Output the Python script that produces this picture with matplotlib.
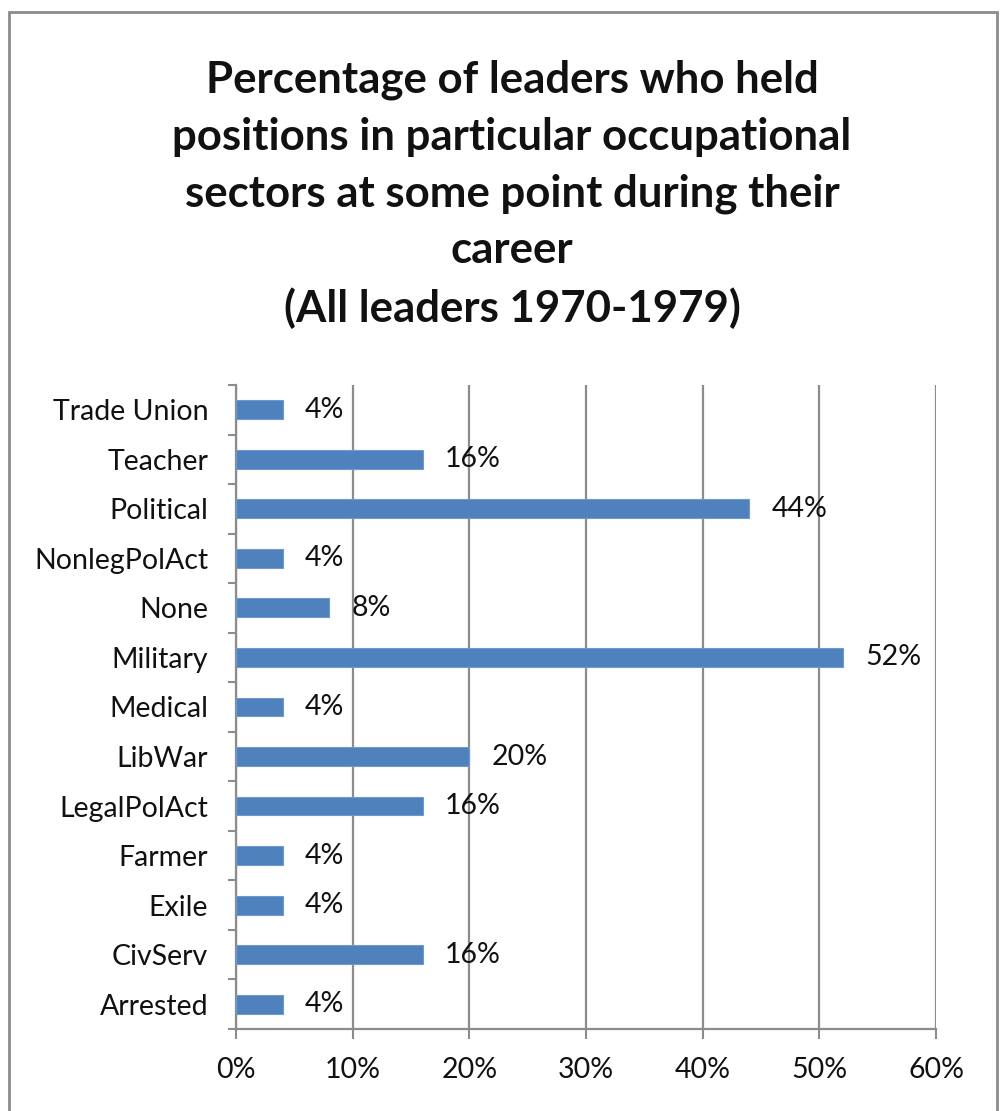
import matplotlib
matplotlib.use("Agg")
import matplotlib.pyplot as plt
from matplotlib.patches import Rectangle
from matplotlib.ticker import FixedLocator

categories = ["Arrested", "CivServ", "Exile", "Farmer", "LegalPolAct", "LibWar",
              "Medical", "Military", "None", "NonlegPolAct", "Political",
              "Teacher", "Trade Union"]
values = [4, 16, 4, 4, 16, 20, 4, 52, 8, 4, 44, 16, 4]
x_ticks = [0, 10, 20, 30, 40, 50, 60]
title = ("Percentage of leaders who held\npositions in particular occupational\n"
         "sectors at some point during their\ncareer\n(All leaders 1970-1979)")

plt.rcParams["font.family"] = ["Lato", "DejaVu Sans"]

fig = plt.figure(figsize=(10, 11.11), dpi=100)
ax = fig.add_axes([0.236, 0.0738, 0.70, 0.5797])

grid_c = "#8c8c8c"
txt_c = "#111111"
ypos = list(range(len(categories)))
ax.barh(ypos, values, height=0.38, color="#4F81BD", edgecolor="#6f9ad0",
        linewidth=0.8, zorder=3)

for y, v in zip(ypos, values):
    ax.annotate(f"{v}%", xy=(v, y), xytext=(16, 0), textcoords="offset points",
                ha="left", va="center", fontsize=20.5, color=txt_c, zorder=4)

ax.set_xlim(0, 60)
ax.set_ylim(-0.5, len(categories) - 0.5)
ax.set_xticks(x_ticks)
ax.set_xticklabels([f"{t}%" for t in x_ticks], fontsize=20.5, color=txt_c)
ax.set_yticks(ypos)
ax.set_yticklabels(categories, fontsize=20.5, color=txt_c)
ax.tick_params(axis="y", length=0, pad=20)
ax.yaxis.set_minor_locator(FixedLocator([i - 0.5 for i in range(len(categories) + 1)]))
ax.tick_params(axis="y", which="minor", length=6, width=1.5, color=grid_c, direction="out")
ax.tick_params(axis="x", length=7, width=1.5, color=grid_c, direction="out", pad=13)

ax.grid(axis="x", color=grid_c, linewidth=1.6, zorder=0)
for side in ["top", "right"]:
    ax.spines[side].set_visible(False)
for side in ["left", "bottom"]:
    ax.spines[side].set_color(grid_c)
    ax.spines[side].set_linewidth(1.6)

fig.text(0.512, 0.946, title, ha="center", va="top", fontsize=31.5,
         fontweight="bold", linespacing=1.5, color=txt_c)

fig.patches.append(Rectangle((0.009, -0.01), 0.988, 0.999, transform=fig.transFigure,
                             fill=False, edgecolor="#8c8c8c", linewidth=2))

fig.savefig("out.png", dpi=100)
